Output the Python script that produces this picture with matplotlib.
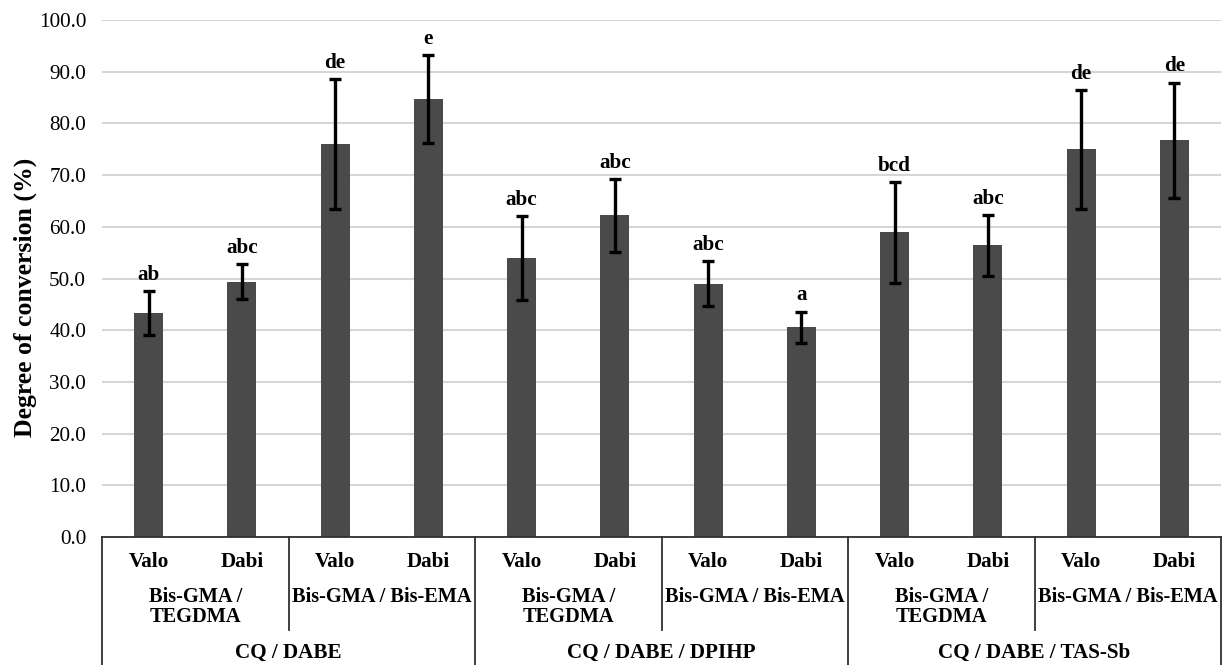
import matplotlib
matplotlib.use("Agg")
import matplotlib.pyplot as plt
from matplotlib.transforms import blended_transform_factory
from matplotlib.lines import Line2D
import numpy as np

groups = ["CQ / DABE", "CQ / DABE / DPIHP", "CQ / DABE / TAS-Sb"]
monomers = ["Bis-GMA /\nTEGDMA", "Bis-GMA / Bis-EMA"]
lights = ["Valo", "Dabi"]
means = [43.3, 49.4, 76.0, 84.7, 53.9, 62.2, 49.0, 40.6, 58.9, 56.4, 75.0, 76.7]
sds = [4.2, 3.4, 12.6, 8.5, 8.1, 7.0, 4.3, 3.0, 9.7, 5.9, 11.5, 11.2]
letters = ["ab", "abc", "de", "e", "abc", "abc", "abc", "a", "bcd", "abc", "de", "de"]
yticks = [0, 10, 20, 30, 40, 50, 60, 70, 80, 90, 100]

plt.rcParams['font.family'] = ['Liberation Serif', 'DejaVu Serif']
plt.rcParams['font.weight'] = 'bold'

FS = 15.2
W, H = 1225, 665
fig = plt.figure(figsize=(W / 100, H / 100), dpi=100)
ax = fig.add_axes([102 / W, 1 - 537 / H, (1221 - 102) / W, (537 - 20) / H])

x = np.arange(len(means))
ax.bar(x, means, width=0.31, color='#4a4a4a', zorder=2)
ax.errorbar(x, means, yerr=sds, fmt='none', ecolor='black', elinewidth=2.4,
            capsize=4, capthick=2.4, zorder=3)
for xi, m, s, lab in zip(x, means, sds, letters):
    ax.annotate(lab, (xi, m + s), xytext=(0, 8), textcoords='offset points',
                ha='center', va='baseline', fontsize=FS, fontweight='bold')

ax.set_xlim(-0.5, len(means) - 0.5)
ax.set_ylim(0, 100)
ax.set_yticks(yticks)
ax.set_yticklabels([f"{v:.1f}" for v in yticks], fontsize=FS, fontweight='normal')
ax.tick_params(axis='y', length=0, pad=11.5)
ax.tick_params(axis='x', length=0, labelbottom=False)
ax.yaxis.grid(True, color='#d6d6d6', linewidth=1.5, zorder=0)
ax.set_axisbelow(True)
for sp in ['left', 'right', 'top']:
    ax.spines[sp].set_visible(False)
ax.spines['bottom'].set_color('#303030')
ax.spines['bottom'].set_linewidth(1.3)

fig.text(25 / W, 1 - 297 / H, "Degree of conversion (%)", rotation=90,
         ha='center', va='center', fontsize=18.5, fontweight='bold')

tr = blended_transform_factory(ax.transData, ax.transAxes)
def ay(py):
    return (537 - py) / 517.0

lc = '#303030'
# edges and group dividers (full height)
for xv in [-0.5, 3.5, 7.5, len(means) - 0.5]:
    ax.add_line(Line2D([xv, xv], [0, ay(667)], transform=tr, color=lc,
                       linewidth=1.3, clip_on=False))
# subgroup dividers
for xv in [1.5, 5.5, 9.5]:
    ax.add_line(Line2D([xv, xv], [0, ay(630)], transform=tr, color=lc,
                       linewidth=1.3, clip_on=False))

for i in range(len(means)):
    ax.text(i, ay(562), lights[i % 2], transform=tr, ha='center', va='center',
            fontsize=FS, fontweight='bold')
for j in range(6):
    name = monomers[j % 2]
    yy = ay(607) if '\n' in name else ay(597)
    ax.text(2 * j + 0.5, yy, name, transform=tr, ha='center', va='center',
            fontsize=14.7, fontweight='bold', linespacing=1.0)
for g in range(3):
    ax.text(4 * g + 1.5, ay(653), groups[g], transform=tr, ha='center', va='center',
            fontsize=FS, fontweight='bold')

fig.savefig("out.png", dpi=100)
